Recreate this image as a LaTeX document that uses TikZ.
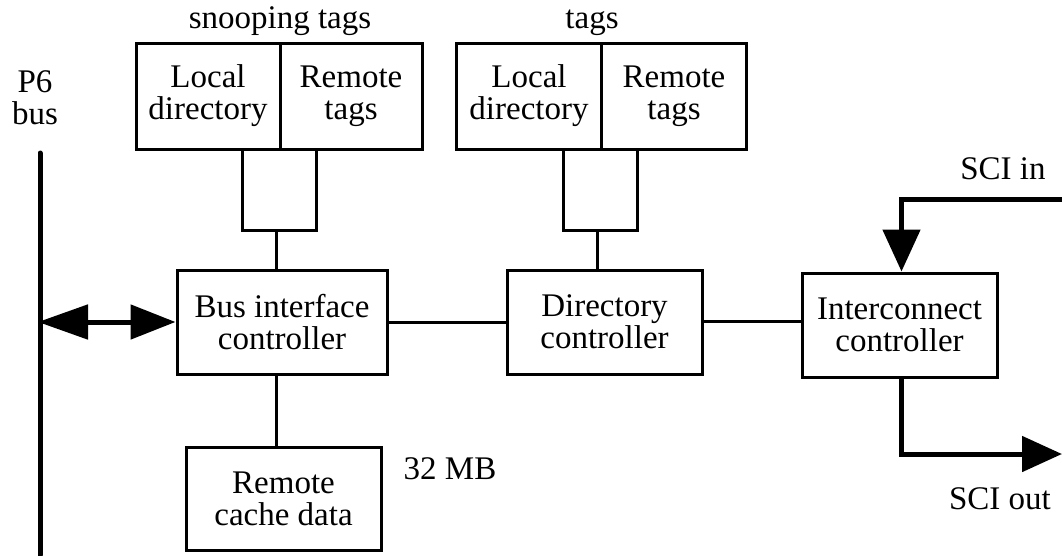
\documentclass[tikz,border=0pt]{standalone}
\usepackage{fontspec}
\setmainfont{Liberation Serif}
\usetikzlibrary{arrows.meta}
\begin{document}
\begin{tikzpicture}[x=1pt,y=-1pt,
  box/.style={draw,line width=3pt,inner sep=0pt,align=center,font=\fontsize{33}{32}\selectfont},
  lbl/.style={inner sep=0pt,align=center,font=\fontsize{33}{32}\selectfont},
  thinline/.style={line width=3pt},
  boldline/.style={line width=5pt}]
\useasboundingbox (0,0) rectangle (1062,555);
% top blocks
\node[box,minimum width=144pt,minimum height=106pt] (sL) at (208,96) {Local\\directory};
\node[box,minimum width=142pt,minimum height=106pt] (sR) at (351,96) {Remote\\tags};
\node[box,minimum width=74pt,minimum height=81pt] (sS) at (279,189.5) {};
\node[box,minimum width=144.5pt,minimum height=106pt] (tL) at (529,96) {Local\\directory};
\node[box,minimum width=144.5pt,minimum height=106pt] (tR) at (674,96) {Remote\\tags};
\node[box,minimum width=74pt,minimum height=81pt] (tS) at (600,189.5) {};
% controllers
\node[box,minimum width=210pt,minimum height=104pt] (BIC) at (282,322) {Bus interface\\controller};
\node[box,minimum width=195pt,minimum height=104pt] (DC) at (604.5,322) {Directory\\controller};
\node[box,minimum width=195pt,minimum height=104pt] (IC) at (899.5,325) {Interconnect\\controller};
\node[box,minimum width=195pt,minimum height=103pt] (RCD) at (283.5,498.5) {Remote\\cache data};
% labels
\node[lbl,anchor=base] (snl) at (280,28) {snooping tags};
\node[lbl,anchor=base] (tgl) at (592,28) {tags};
\node[lbl] (p6) at (35,98) {P6\\bus};
\node[lbl,anchor=base] (mb) at (450,479) {32 MB};
\node[lbl,anchor=base] (scin) at (1003,179) {SCI in};
\node[lbl,anchor=base] (scout) at (1000,509) {SCI out};
% thin connectors
\draw[thinline] ([xshift=-3pt]sS.south) -- ([xshift=-3pt]sS.south |- BIC.north);
\draw[thinline] ([xshift=-3pt]tS.south) -- ([xshift=-3pt]tS.south |- DC.north);
\draw[thinline] ([xshift=-6pt]BIC.south) -- ([xshift=-6pt]BIC.south |- RCD.north);
\draw[thinline] (BIC.east) -- (DC.west);
\draw[thinline] ([yshift=1pt]DC.east) -- ([yshift=1pt]DC.east -| IC.west);
% P6 bus
\coordinate (bt) at (40,153);
\coordinate (bb) at (40,555);
\coordinate (bm) at (38,322);
\draw[boldline,line cap=round] (bt) -- (bb);
\draw[boldline,{Triangle[length=50pt,width=34pt]}-{Triangle[length=45pt,width=34pt]}] (bm) -- (BIC.west);
% SCI in / out
\coordinate (si) at (1062,199);
\coordinate (so) at (1062,454);
\draw[boldline,-{Triangle[length=42pt,width=37pt]}] (si) -| ([xshift=2pt]IC.north);
\draw[boldline,-{Triangle[length=40pt,width=35pt]}] ([xshift=2pt]IC.south) |- (so);
\end{tikzpicture}
\end{document}
